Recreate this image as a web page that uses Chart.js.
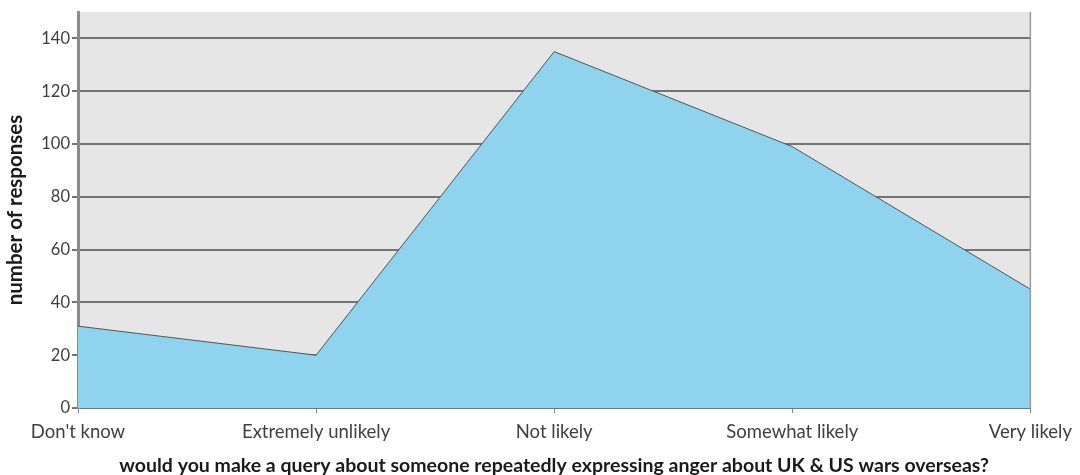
<!DOCTYPE html>
<html>
<head>
<meta charset="utf-8">
<script src="https://cdn.jsdelivr.net/npm/chart.js@4"></script>
<style>
  html, body { margin: 0; padding: 0; background: #fff; }
  #wrap { width: 1080px; height: 475px; }
</style>
</head>
<body>
<div id="wrap"><canvas id="area_chart"></canvas></div>
<script>
const categories = ["Don't know", 'Extremely unlikely', 'Not likely', 'Somewhat likely', 'Very likely'];
const responses = [31, 20, 135, 99, 45];
const yTicks = [0, 20, 40, 60, 80, 100, 120, 140];

const plotBackground = {
    id: 'plotBackground',
    beforeDraw(chart) {
        const { ctx, chartArea: a } = chart;
        ctx.save();
        ctx.fillStyle = '#e6e6e6';
        ctx.fillRect(a.left, a.top, a.right - a.left, a.bottom - a.top);
        ctx.restore();
    },
    afterDraw(chart) {
        const { ctx, chartArea: a } = chart;
        ctx.save();
        ctx.strokeStyle = '#9a9a9a';
        ctx.lineWidth = 1.5;
        ctx.beginPath();
        ctx.moveTo(a.right, a.top);
        ctx.lineTo(a.right, a.bottom);
        ctx.stroke();
        ctx.restore();
    }
};

const canvas = document.getElementById('area_chart');

new Chart(canvas, {
    type: 'line',
    data: {
        labels: categories,
        datasets: [
            {
                label: 'number of responses',
                data: responses,
                fill: 'origin',
                backgroundColor: '#8fd3ee',
                borderColor: '#555555',
                borderWidth: 1,
                tension: 0,
                pointRadius: 0
            }
        ]
    },
    options: {
        responsive: true,
        maintainAspectRatio: false,
        animation: false,
        layout: {
            padding: { top: 12, right: 47, left: 0, bottom: 0 }
        },
        scales: {
            x: {
                offset: false,
                grid: {
                    drawOnChartArea: false,
                    color: '#888888',
                    tickLength: 5
                },
                border: { display: false },
                ticks: {
                    color: '#404040',
                    font: { family: 'Lato', size: 18.5 },
                    padding: 8,
                    maxRotation: 0,
                    autoSkip: false
                },
                title: {
                    display: true,
                    text: 'would you make a query about someone repeatedly expressing anger about UK & US wars overseas?',
                    color: '#1a1a1a',
                    font: { family: 'Lato', size: 19.5, weight: 'bold', lineHeight: 1 },
                    padding: { top: 0, bottom: 0 }
                },
                afterFit(scale) { scale.height = 67; }
            },
            y: {
                min: 0,
                max: 150,
                grid: {
                    color: '#747474',
                    lineWidth: 2,
                    tickLength: 6
                },
                border: { color: '#8a8a8a', width: 3 },
                afterBuildTicks(scale) {
                    scale.ticks = yTicks.map(v => ({ value: v }));
                },
                ticks: {
                    color: '#404040',
                    font: { family: 'Lato', size: 16.5 },
                    padding: 2
                },
                title: {
                    display: true,
                    text: 'number of responses',
                    color: '#1a1a1a',
                    font: { family: 'Lato', size: 20.5, weight: 'bold', lineHeight: 1.2 },
                    padding: { top: 3, bottom: 0 }
                },
                afterFit(scale) { scale.width = 78; }
            }
        },
        plugins: {
            legend: { display: false },
            tooltip: { enabled: false }
        }
    },
    plugins: [plotBackground]
});
</script>
</body>
</html>
